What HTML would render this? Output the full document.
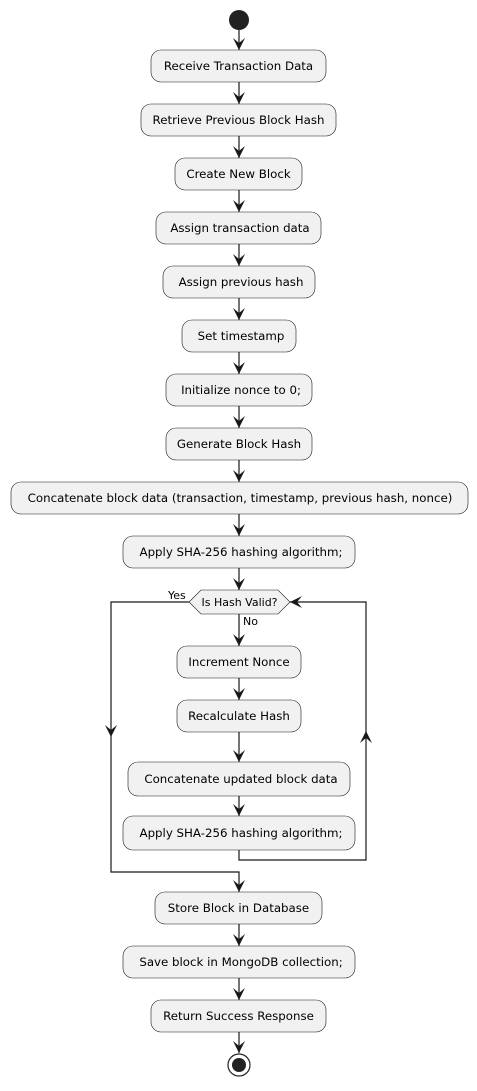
<!DOCTYPE html>
<html><head><meta charset="utf-8"><style>
html,body{margin:0;padding:0;background:#fff}
text{font-family:"DejaVu Sans","Liberation Sans",sans-serif;font-size:11.8px;fill:#000}
.b{fill:#f1f1f1;stroke:#181818;stroke-width:0.6}
.l{stroke:#181818;stroke-width:1.2;fill:none}
.a{fill:#181818}
</style></head><body>
<svg width="477" height="1086" viewBox="0 0 477 1086" xmlns="http://www.w3.org/2000/svg">
<defs><path id="ar" d="M-6,-12 L0,0 L6,-12 L0,-7Z"/></defs>
<circle cx="239" cy="20" r="10" fill="#222"/>
<g>
<line class="l" x1="239" y1="30" x2="239" y2="50"/>
<line class="l" x1="239" y1="82" x2="239" y2="104"/>
<line class="l" x1="239" y1="136" x2="239" y2="158"/>
<line class="l" x1="239" y1="190" x2="239" y2="212"/>
<line class="l" x1="239" y1="244" x2="239" y2="266"/>
<line class="l" x1="239" y1="298" x2="239" y2="320"/>
<line class="l" x1="239" y1="352" x2="239" y2="374"/>
<line class="l" x1="239" y1="406" x2="239" y2="428"/>
<line class="l" x1="239" y1="460" x2="239" y2="482"/>
<line class="l" x1="239" y1="514" x2="239" y2="536"/>
<line class="l" x1="239" y1="568" x2="239" y2="590"/>
<line class="l" x1="239" y1="614" x2="239" y2="646"/>
<line class="l" x1="239" y1="678" x2="239" y2="700"/>
<line class="l" x1="239" y1="732" x2="239" y2="762"/>
<line class="l" x1="239" y1="796" x2="239" y2="816"/>
<polyline class="l" points="239,850 239,860 366,860 366,602 290,602"/>
<polyline class="l" points="189,602 111,602 111,872 239,872 239,892"/>
<line class="l" x1="239" y1="924" x2="239" y2="946"/>
<line class="l" x1="239" y1="978" x2="239" y2="1000"/>
<line class="l" x1="239" y1="1032" x2="239" y2="1053"/>
</g>
<g class="a">
<use href="#ar" x="239" y="50"/>
<use href="#ar" x="239" y="104"/>
<use href="#ar" x="239" y="158"/>
<use href="#ar" x="239" y="212"/>
<use href="#ar" x="239" y="266"/>
<use href="#ar" x="239" y="320"/>
<use href="#ar" x="239" y="374"/>
<use href="#ar" x="239" y="428"/>
<use href="#ar" x="239" y="482"/>
<use href="#ar" x="239" y="536"/>
<use href="#ar" x="239" y="590"/>
<use href="#ar" x="239" y="646"/>
<use href="#ar" x="239" y="700"/>
<use href="#ar" x="239" y="762"/>
<use href="#ar" x="239" y="816"/>
<use href="#ar" x="239" y="892"/>
<use href="#ar" x="239" y="946"/>
<use href="#ar" x="239" y="1000"/>
<use href="#ar" x="239" y="1053"/>
<use href="#ar" x="111" y="737"/>
<use href="#ar" transform="translate(366,731) rotate(180)"/>
<use href="#ar" transform="translate(290,602) rotate(90)"/>
</g>
<g>
<rect class="b" x="151" y="50" width="175" height="32" rx="10"/><text x="238.5" y="70" text-anchor="middle">Receive Transaction Data</text>
<rect class="b" x="141" y="104" width="195" height="32" rx="10"/><text x="238.5" y="124" text-anchor="middle">Retrieve Previous Block Hash</text>
<rect class="b" x="175" y="158" width="127" height="32" rx="10"/><text x="238.5" y="178" text-anchor="middle">Create New Block</text>
<rect class="b" x="156" y="212" width="165" height="32" rx="10"/><text x="240" y="232" text-anchor="middle">Assign transaction data</text>
<rect class="b" x="163" y="266" width="152" height="32" rx="10"/><text x="241" y="286" text-anchor="middle">Assign previous hash</text>
<rect class="b" x="182" y="320" width="114" height="32" rx="10"/><text x="241" y="340" text-anchor="middle">Set timestamp</text>
<rect class="b" x="166" y="374" width="146" height="32" rx="10"/><text x="241" y="394" text-anchor="middle">Initialize nonce to 0;</text>
<rect class="b" x="166" y="428" width="146" height="32" rx="10"/><text x="239" y="448" text-anchor="middle">Generate Block Hash</text>
<rect class="b" x="11" y="482" width="457" height="32" rx="10"/><text x="240" y="502" text-anchor="middle">Concatenate block data (transaction, timestamp, previous hash, nonce)</text>
<rect class="b" x="123" y="536" width="232" height="32" rx="10"/><text x="241" y="556" text-anchor="middle">Apply SHA-256 hashing algorithm;</text>
<polygon class="b" points="189,602 201,590 278,590 290,602 278,614 201,614"/><text x="239.5" y="606" text-anchor="middle" style="font-size:11px">Is Hash Valid?</text>
<text x="168" y="599" style="font-size:11px">Yes</text>
<text x="243" y="625" style="font-size:11px">No</text>
<rect class="b" x="177" y="646" width="124" height="32" rx="10"/><text x="239" y="666" text-anchor="middle">Increment Nonce</text>
<rect class="b" x="177" y="700" width="124" height="32" rx="10"/><text x="239" y="720" text-anchor="middle">Recalculate Hash</text>
<rect class="b" x="128" y="762" width="222" height="34" rx="10"/><text x="241" y="783" text-anchor="middle">Concatenate updated block data</text>
<rect class="b" x="123" y="816" width="232" height="34" rx="10"/><text x="241" y="837" text-anchor="middle">Apply SHA-256 hashing algorithm;</text>
<rect class="b" x="155" y="892" width="167" height="32" rx="10"/><text x="238.5" y="912" text-anchor="middle">Store Block in Database</text>
<rect class="b" x="123" y="946" width="232" height="32" rx="10"/><text x="241" y="966" text-anchor="middle">Save block in MongoDB collection;</text>
<rect class="b" x="151" y="1000" width="175" height="32" rx="10"/><text x="238.5" y="1020" text-anchor="middle">Return Success Response</text>
</g>
<circle cx="239" cy="1065" r="11" fill="none" stroke="#222" stroke-width="1.2"/>
<circle cx="239" cy="1065" r="7" fill="#222"/>
</svg>
</body></html>
